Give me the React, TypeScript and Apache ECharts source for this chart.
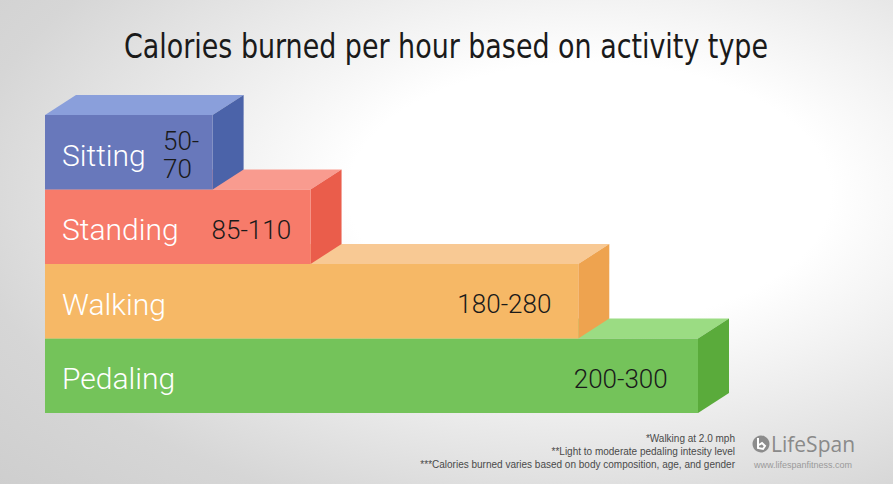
import React, { useEffect, useRef } from "react";
import * as echarts from "echarts";

const categories = ["Sitting", "Standing", "Walking", "Pedaling"];
const lowValues = [50, 85, 180, 200];
const highValues = [70, 110, 280, 300];
// drawn bar length (infographic, not to scale) in axis units
const barLengths = [77, 122, 245, 300];
const frontColors = ["#6878bb", "#f77b6a", "#f6b866", "#74c35a"];
const topColors = ["#8a9fdb", "#f99b8f", "#f8c994", "#9bdc83"];
const sideColors = ["#4b63a9", "#ea5d4b", "#eea34f", "#5aab3b"];
const footnotes = [
  "*Walking at 2.0 mph",
  "**Light to moderate pedaling intesity level",
  "***Calories burned varies based on body composition, age, and gender",
];
const titleText = "Calories burned per hour based on activity type";

export default function App() {
  const ref = useRef<HTMLDivElement>(null);
  useEffect(() => {
    const chart = echarts.init(ref.current!, null, { renderer: "svg" });
    const DX = 31;
    const DY = 20;
    const order = [3, 2, 1, 0];
    const data = order.map((i) => [barLengths[i], i, lowValues[i], highValues[i]]);
    const labelFont = "'Roboto', 'Liberation Sans', sans-serif";
    chart.setOption({
      animation: false,
      backgroundColor: "#d0d0d0",
      graphic: [
        {
          type: "rect",
          z: -10,
          silent: true,
          x: 0,
          y: 0,
          scaleX: 1.12,
          shape: { x: 0, y: 0, width: 893 / 1.12, height: 484 },
          style: {
            fill: new echarts.graphic.RadialGradient(0.66, 0.4, 0.9, [
              { offset: 0, color: "#ffffff" },
              { offset: 0.3, color: "#ffffff" },
              { offset: 0.78, color: "#d6d6d6" },
              { offset: 1, color: "#cecece" },
            ]),
          },
        },
        {
          type: "text",
          x: 446,
          y: 46,
          scaleX: 0.88,
          style: {
            text: titleText,
            fill: "#1a1a1a",
            font: "34px 'DejaVu Sans Condensed', 'DejaVu Sans', sans-serif",
            textAlign: "center",
            textVerticalAlign: "middle",
          },
        },
        {
          type: "group",
          children: footnotes.map((t, k) => ({
            type: "text",
            x: 735,
            y: 438 + k * 13,
            style: {
              text: t,
              fill: "#4a4a4a",
              font: "10px 'Liberation Sans', Arial, sans-serif",
              textAlign: "right",
              textVerticalAlign: "middle",
            },
          })),
        },
        {
          type: "circle",
          shape: { cx: 761, cy: 444, r: 8.5 },
          style: { fill: "#8c8c8c" },
        },
        {
          type: "polyline",
          shape: { points: [[758, 438], [758, 448], [763, 449], [765, 446], [762, 443], [759, 445]] },
          style: { stroke: "#ffffff", lineWidth: 2, fill: "none" },
        },
        {
          type: "text",
          x: 771,
          y: 444,
          style: {
            text: "LifeSpan",
            fill: "#8a8a8a",
            font: "21px 'Open Sans', 'DejaVu Sans', sans-serif",
            textVerticalAlign: "middle",
          },
        },
        {
          type: "text",
          x: 803,
          y: 465,
          style: {
            text: "www.lifespanfitness.com",
            fill: "#9a9a9a",
            font: "9px 'Liberation Sans', Arial, sans-serif",
            textAlign: "center",
            textVerticalAlign: "middle",
          },
        },
      ],
      grid: { left: 45, top: 115, width: 653, height: 298 },
      xAxis: { type: "value", min: 0, max: 300, show: false },
      yAxis: { type: "category", data: categories, inverse: true, show: false },
      series: [
        {
          type: "custom",
          encode: { x: 0, y: 1 },
          data,
          renderItem: (params: any, api: any) => {
            const idx = api.value(1);
            const len = api.value(0);
            const p0 = api.coord([0, idx]);
            const p1 = api.coord([len, idx]);
            const h = api.size([0, 1])[1];
            const x0 = p0[0];
            const x1 = p1[0];
            const y0 = p0[1] - h / 2;
            const y1 = p0[1] + h / 2;
            const cy = p0[1];
            const low = api.value(2);
            const high = api.value(3);
            const w = x1 - x0;
            const narrow = w < 200;
            const label = narrow ? `${low}-\n${high}` : `${low}-${high}`;
            return {
              type: "group",
              children: [
                {
                  type: "polygon",
                  shape: { points: [[x0, y0], [x0 + DX, y0 - DY], [x1 + DX, y0 - DY], [x1, y0]] },
                  style: { fill: topColors[idx] },
                },
                {
                  type: "polygon",
                  shape: { points: [[x1, y0], [x1 + DX, y0 - DY], [x1 + DX, y1 - DY], [x1, y1]] },
                  style: { fill: sideColors[idx] },
                },
                {
                  type: "rect",
                  shape: { x: x0, y: y0, width: w, height: y1 - y0 },
                  style: { fill: frontColors[idx] },
                },
                {
                  type: "text",
                  x: x0 + 17,
                  y: cy + 3,
                  style: {
                    text: categories[idx],
                    fill: "#ffffff",
                    font: `300 30px ${labelFont}`,
                    textVerticalAlign: "middle",
                  },
                },
                {
                  type: "text",
                  x: narrow ? x0 + 118 : x1 - (12 + 0.028 * w),
                  y: cy + 3,
                  style: {
                    text: label,
                    fill: "#1a1a1a",
                    font: `300 26px ${labelFont}`,
                    textAlign: narrow ? "left" : "right",
                    textVerticalAlign: "middle",
                    lineHeight: 28,
                  },
                },
              ],
            };
          },
        },
      ],
    });
    return () => chart.dispose();
  }, []);
  return <div ref={ref} style={{ width: 893, height: 484, position: "absolute", left: 0, top: 0 }} />;
}
